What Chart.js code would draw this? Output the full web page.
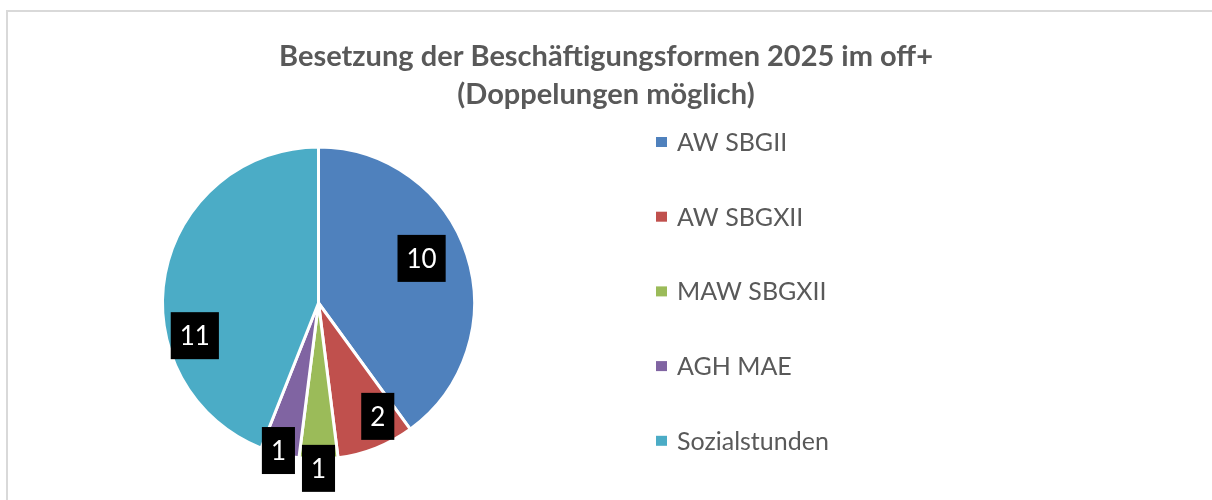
<!DOCTYPE html>
<html>
<head>
<meta charset="utf-8">
<script src="https://cdn.jsdelivr.net/npm/chart.js@4.4.1/dist/chart.umd.min.js"></script>
<style>
  html, body { margin: 0; padding: 0; background: #fff; overflow: hidden; }
  #frame { position: absolute; left: 6px; top: 10px; width: 1400px; height: 700px; border: 2px solid #d9d9d9; box-sizing: border-box; }
  #wrap { position: absolute; left: 0; top: 0; width: 1212px; height: 500px; }
</style>
</head>
<body>
<div id="frame"></div>
<div id="wrap"><canvas id="chart"></canvas></div>
<script>
const categories = ["AW SBGII", "AW SBGXII", "MAW SBGXII", "AGH MAE", "Sozialstunden"];
const values = [10, 2, 1, 1, 11];
const titleLines = ["Besetzung der Beschäftigungsformen 2025 im off+", "(Doppelungen möglich)"];

const sliceColors = ["#4F81BD", "#C0504D", "#9BBB59", "#8064A2", "#4BACC6"];
// where Excel's "best fit" put each label: share of the radius, and shift from the slice middle (deg)
const labelRadius = [0.72, 0.82, 1.06, 0.98, 0.82];
const labelShift = [-5.4, -6, 0, 0.8, -25.6];

const FONT = "Lato, 'Open Sans', sans-serif";
const GREY = "#595959";

// legend lives in its own layout box on the right, so the pie keeps to the left
const legendBox = {
  position: "right",
  weight: 0,
  fullSize: false,
  options: { stackWeight: 1 },
  update(maxWidth, maxHeight) {
    this.width = 575;
    this.height = maxHeight;
  },
  isHorizontal() { return false; },
  getPadding() { return { left: 0, right: 0, top: 0, bottom: 0 }; },
  draw() {
    const chart = this.chart;
    const ctx = chart.ctx;
    const colors = chart.data.datasets[0].backgroundColor;
    ctx.save();
    ctx.font = "25px " + FONT;
    ctx.textBaseline = "middle";
    ctx.textAlign = "left";
    chart.data.labels.forEach((label, i) => {
      const y = 142 + i * 74.7;
      ctx.fillStyle = colors[i];
      ctx.fillRect(this.left + 19, y - 5, 11, 10);
      ctx.fillStyle = GREY;
      ctx.fillText(label, this.left + 40, y + 1);
    });
    ctx.restore();
  }
};

const sideLegend = {
  id: "sideLegend",
  beforeInit(chart) {
    legendBox.chart = chart;
    Chart.layouts.addBox(chart, legendBox);
  }
};

const boxLabels = {
  id: "boxLabels",
  afterDatasetsDraw(chart) {
    const ctx = chart.ctx;
    const meta = chart.getDatasetMeta(0);
    ctx.save();
    ctx.font = "26px " + FONT;
    ctx.textAlign = "center";
    ctx.textBaseline = "middle";
    meta.data.forEach((arc, i) => {
      const p = arc.getProps(["x", "y", "startAngle", "endAngle", "outerRadius"], true);
      const a = (p.startAngle + p.endAngle) / 2 + labelShift[i] * Math.PI / 180;
      const r = p.outerRadius * labelRadius[i];
      const cx = p.x + Math.cos(a) * r;
      const cy = p.y + Math.sin(a) * r;
      const txt = String(chart.data.datasets[0].data[i]);
      const w = ctx.measureText(txt).width + 18;
      const h = 47;
      ctx.fillStyle = "#000";
      ctx.fillRect(cx - w / 2, cy - h / 2, w, h);
      ctx.fillStyle = "#fff";
      ctx.fillText(txt, cx, cy + 1);
    });
    ctx.restore();
  }
};

new Chart(document.getElementById("chart"), {
  type: "pie",
  data: {
    labels: categories,
    datasets: [{
      data: values,
      backgroundColor: sliceColors,
      borderColor: "#fff",
      borderWidth: 3,
      radius: 156,
      clip: false
    }]
  },
  options: {
    responsive: true,
    maintainAspectRatio: false,
    animation: false,
    layout: { padding: { left: 0, right: 0, top: 0, bottom: 8 } },
    plugins: {
      legend: { display: false },
      tooltip: { enabled: false },
      title: {
        display: true,
        text: titleLines,
        color: GREY,
        font: { family: FONT, size: 29, weight: "bold", lineHeight: 38 / 29 },
        padding: { top: 38, bottom: 0 }
      }
    }
  },
  plugins: [sideLegend, boxLabels]
});
</script>
</body>
</html>
